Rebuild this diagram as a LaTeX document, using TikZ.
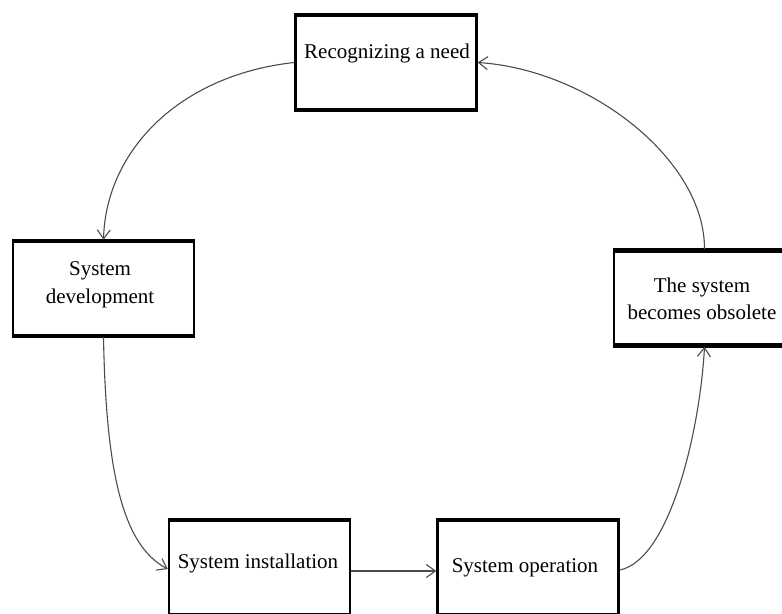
\documentclass[tikz,border=0pt]{standalone}
\usepackage{fontspec}
\setmainfont{Liberation Serif}
\usetikzlibrary{arrows.meta}
\begin{document}
\begin{tikzpicture}[x=0.5pt,y=-0.5pt,
  stagebox/.style={draw=black,line width=1.25pt,minimum width=90.5pt,minimum height=47.5pt,inner sep=0pt},
  edge/.style={line width=2.4pt},
  stagetext/.style={font=\fontsize{10.5}{13.8}\selectfont,align=center,inner sep=0pt},
  flow/.style={draw=black!70,line width=0.55pt,-{Straight Barb[length=4.5pt,width=6.5pt,line width=0.55pt]}}]
\clip (0,0) rectangle (782,614);
\fill[white] (0,0) rectangle (782,614);

% stage boxes
\node[stagebox] (need) at (386,62.5) {};
\node[stagebox] (dev) at (103.5,288.5) {};
\node[stagebox] (obs) at (704.5,298) {};
\node[stagebox] (inst) at (259.5,567.5) {};
\node[stagebox] (oper) at (528,567.5) {};

% heavier top and bottom edges
\foreach \b in {need,dev,obs,inst,oper}{
  \draw[edge] ([yshift=-0.6pt]\b.north west) -- ([yshift=-0.6pt]\b.north east);
  \draw[edge] ([yshift=0.6pt]\b.south west) -- ([yshift=0.6pt]\b.south east);
}

% labels
\node[stagetext] (tneed) at (387,53) {Recognizing a need};
\node[stagetext] (tdev) at (100,285) {System\\development};
\node[stagetext] (tobs) at (702,299) {The system\\becomes obsolete};
\node[stagetext] (tinst) at (258,563) {System installation};
\node[stagetext] (toper) at (525,568) {System operation};

% cycle connectors
\draw[flow] (need.west) .. controls (180,75) and (106,150) .. (dev.north);
\draw[flow] (dev.south) .. controls (106,470) and (122,545) .. (inst.west |- 0,569);
\draw[flow] (inst.east |- 0,571) -- (oper.west |- 0,571);
\draw[flow] (oper.east |- 0,570) .. controls (670,560) and (700,430) .. (obs.south);
\draw[flow] (obs.north) .. controls (705,160) and (590,70) .. (need.east);
\end{tikzpicture}
\end{document}
